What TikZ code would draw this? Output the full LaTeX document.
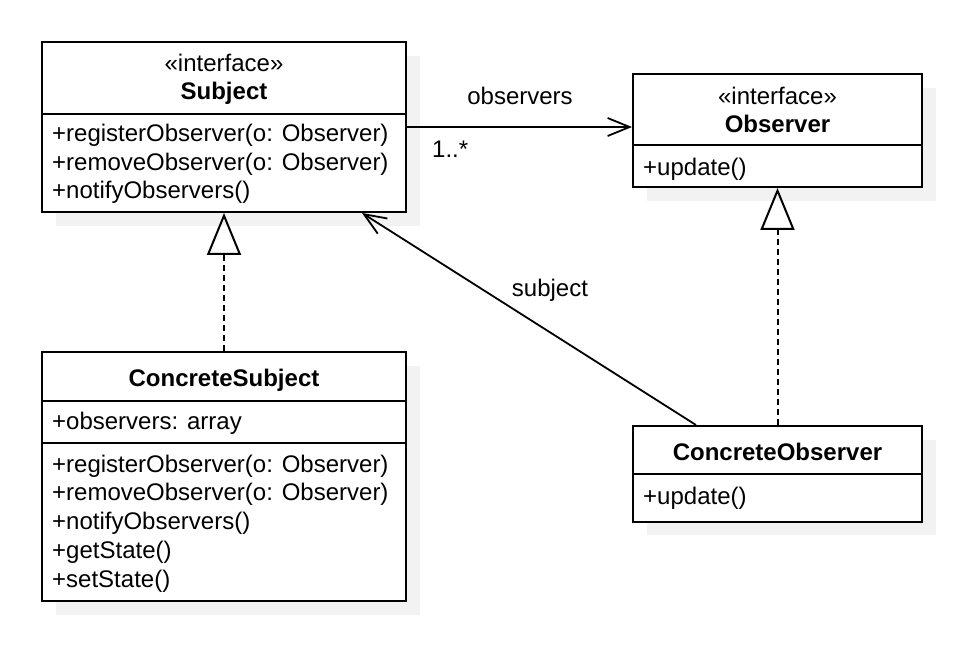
\documentclass[tikz,border=0pt]{standalone}
\usepackage{fontspec}
\setmainfont{Liberation Sans}
\usetikzlibrary{arrows.meta,calc}
\definecolor{shadowgray}{HTML}{F2F2F2}
\begin{document}
\begin{tikzpicture}[x=1pt,y=-1pt,
  umlbox/.style={draw, line width=2pt, fill=white, inner sep=0pt},
  divider/.style={line width=2pt},
  shadowfill/.style={fill=shadowgray},
  txt/.style={anchor=base west, inner sep=0pt, font=\fontsize{24}{28.8}\selectfont},
  ctxt/.style={anchor=base, inner sep=0pt, font=\fontsize{24}{28.8}\selectfont},
  btxt/.style={anchor=base, inner sep=0pt, font=\fontsize{24}{28.8}\selectfont\bfseries},
  assoc/.style={line width=1.8pt, -{Straight Barb[length=22pt, width=18pt, line width=1.8pt]}},
  realize/.style={line width=2pt, dash pattern=on 6pt off 4pt, -{Triangle[open, length=42pt, width=34pt, line width=2pt]}}
]
\useasboundingbox (0,0) rectangle (980,660);
% shadows
\fill[shadowfill] (56,56) rectangle (420,226);
\fill[shadowfill] (647,88) rectangle (936,201);
\fill[shadowfill] (56,366) rectangle (420,615);
\fill[shadowfill] (647,440) rectangle (936,535);

% Subject
\node[umlbox, minimum width=364pt, minimum height=170pt] (subject) at (224,127) {};
\draw[divider] (42,114) -- (406,114);
\node[ctxt] (s1) at (224,72) {«interface»};
\node[btxt] (s2) at (224,100) {Subject};
\node[txt] (s3) at (52,142) {+registerObserver(o: Observer)};
\node[txt] (s4) at (52,171) {+removeObserver(o: Observer)};
\node[txt] (s5) at (52,199) {+notifyObservers()};

% Observer
\node[umlbox, minimum width=289pt, minimum height=113pt] (observer) at (777.5,130.5) {};
\draw[divider] (633,145) -- (922,145);
\node[ctxt] (o1) at (777.5,105) {«interface»};
\node[btxt] (o2) at (777.5,133) {Observer};
\node[txt] (o3) at (643,176) {+update()};

% ConcreteSubject
\node[umlbox, minimum width=364pt, minimum height=249pt] (csubj) at (224,476.5) {};
\draw[divider] (42,401) -- (406,401);
\draw[divider] (42,443) -- (406,443);
\node[btxt] (c1) at (224,386) {ConcreteSubject};
\node[txt] (c2) at (52,429) {+observers: array};
\node[txt] (c3) at (52,472) {+registerObserver(o: Observer)};
\node[txt] (c4) at (52,500.8) {+removeObserver(o: Observer)};
\node[txt] (c5) at (52,529.6) {+notifyObservers()};
\node[txt] (c6) at (52,558.4) {+getState()};
\node[txt] (c7) at (52,587.2) {+setState()};

% ConcreteObserver
\node[umlbox, minimum width=289pt, minimum height=96pt] (cobs) at (777.5,474) {};
\draw[divider] (633,474) -- (922,474);
\node[btxt] (d1) at (777.5,460) {ConcreteObserver};
\node[txt] (d2) at (643,504) {+update()};

% connectors
\draw[assoc] (subject.east) -- (subject.east -| observer.west);
\node[ctxt] (lobs) at (520,105) {observers};
\node[txt] (lmult) at (432,158) {1..*};

\coordinate (subjEnd) at ($(subject.south west)+(321,0)$);
\coordinate (cobsStart) at ($(cobs.north west)+(64,0)$);
\draw[assoc] (cobsStart) -- (subjEnd);
\node[ctxt] (lsubj) at (550,297) {subject};

\draw[realize] (csubj.north) -- (subject.south);
\draw[realize] (cobs.north) -- (observer.south);
\end{tikzpicture}
\end{document}
